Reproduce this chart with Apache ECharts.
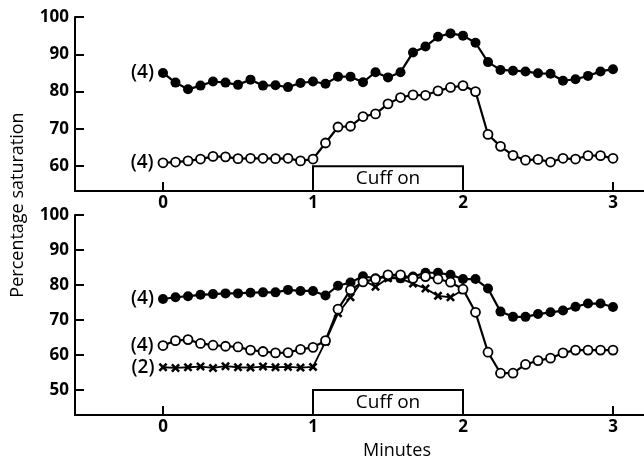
<!DOCTYPE html>
<html><head><meta charset="utf-8">
<script src="https://cdn.jsdelivr.net/npm/echarts@6/dist/echarts.min.js"></script>
<style>html,body{margin:0;padding:0;background:#fff}#c{width:644px;height:458px}</style>
</head><body><div id="c"></div>
<script>
// sample times in seconds (one reading every 5 s)
const seconds = [0,5,10,15,20,25,30,35,40,45,50,55,60,65,70,75,80,85,90,95,100,105,110,115,120,125,130,135,140,145,150,155,160,165,170,175,180];
const tickSeconds = [0,60,120,180];
const topTicks = [60,70,80,90,100];
const bottomTicks = [50,60,70,80,90,100];
const cuffLabel = 'Cuff on';
const cuffStartEnd = [60,120];

// upper panel
const topFilledName = '(4)';
const topFilled = [85.0,82.4,80.6,81.6,82.7,82.4,81.8,83.2,81.6,81.7,81.2,82.3,82.7,82.1,84.0,84.0,82.5,85.2,83.8,85.2,90.5,92.1,94.7,95.6,95.0,93.1,87.9,85.8,85.6,85.4,84.9,84.8,82.9,83.3,84.2,85.4,86.0];
const topOpenName = '(4)';
const topOpen = [60.9,61.1,61.4,61.9,62.6,62.5,62.0,62.1,62.1,62.0,62.1,61.4,61.9,66.2,70.5,70.7,73.3,74.0,76.7,78.4,79.1,79.0,80.2,81.1,81.6,80.0,68.5,65.3,62.9,61.6,61.8,61.1,62.1,61.9,62.8,62.8,62.1];

// lower panel
const botFilledName = '(4)';
const botFilled = [76.0,76.5,76.8,77.2,77.4,77.6,77.6,77.8,77.9,77.9,78.6,78.3,78.3,77.0,79.8,80.7,82.5,81.9,82.4,81.9,82.4,83.5,83.5,82.9,81.7,81.7,79.0,72.4,70.9,70.9,71.7,72.2,72.7,73.8,74.7,74.7,73.7];
const botOpenName = '(4)';
const botOpen = [62.7,64.1,64.4,63.3,62.8,62.5,62.3,61.4,61.0,60.6,60.7,61.6,62.2,64.1,73.1,78.6,80.9,81.7,82.9,82.9,81.9,82.4,81.7,80.8,78.8,72.2,60.8,54.8,54.8,57.3,58.4,59.1,60.6,61.4,61.4,61.4,61.4];
const botCrossName = '(2)';
const botCross = [56.5,56.3,56.5,56.7,56.3,56.8,56.5,56.4,56.7,56.5,56.6,56.4,56.6,63.8,71.9,76.5,81.4,79.5,81.9,81.9,80.4,79.0,76.9,76.5,78.6];

const yTitle = 'Percentage saturation';
const xTitle = 'Minutes';

const TOP_MIN = 53.33, TOP_MAX = 100;
const BOT_MIN = 42.86, BOT_MAX = 100;
const X_MIN = -35.2, X_MAX = 192.4;

const FONT = 'Open Sans';
const pair = (arr) => arr.map((v, i) => [seconds[i], v]);

function xAxisCfg(idx, extra) {
  return Object.assign({
    type: 'value', gridIndex: idx, min: X_MIN, max: X_MAX,
    axisLine: { show: true, onZero: false, lineStyle: { color: '#000', width: 2 } },
    axisTick: { show: true, inside: true, length: 9, customValues: tickSeconds, lineStyle: { color: '#000', width: 2 } },
    axisLabel: { customValues: tickSeconds, formatter: v => String(v / 60), color: '#000', fontSize: 17, fontWeight: 'bold', fontFamily: FONT, margin: 4 },
    splitLine: { show: false }
  }, extra || {});
}
function yAxisCfg(idx, mn, mx, ticks) {
  return {
    type: 'value', gridIndex: idx, min: mn, max: mx,
    axisLine: { show: true, onZero: false, lineStyle: { color: '#000', width: 2 } },
    axisTick: { show: true, inside: true, length: 9, customValues: ticks, lineStyle: { color: '#000', width: 2 } },
    axisLabel: { customValues: ticks, color: '#000', fontSize: 17, fontWeight: 'bold', fontFamily: FONT, margin: 6 },
    splitLine: { show: false }
  };
}
function firstLabel(name) {
  return { show: true, position: 'left', distance: 4, color: '#000', fontSize: 19, fontWeight: 600, fontFamily: FONT,
    formatter: p => (p.dataIndex === 0 ? name : '') };
}
function cuffArea(mn, top) {
  return {
    silent: true,
    itemStyle: { color: '#fff', borderColor: '#000', borderWidth: 2 },
    label: { show: true, position: 'inside', color: '#000', fontSize: 19, fontFamily: FONT, fontWeight: 500 },
    data: [[{ name: cuffLabel, xAxis: cuffStartEnd[0], yAxis: mn }, { xAxis: cuffStartEnd[1], yAxis: top }]]
  };
}
const crossPath = 'path://M0,2L2,0L5,3L8,0L10,2L7,5L10,8L8,10L5,7L2,10L0,8L3,5Z';

const filledStyle = { symbol: 'circle', symbolSize: 10, itemStyle: { color: '#000' }, lineStyle: { color: '#000', width: 2.2 } };
const openStyle = { symbol: 'circle', symbolSize: 9, itemStyle: { color: '#fff', borderColor: '#000', borderWidth: 1.8 }, lineStyle: { color: '#000', width: 2.2 } };

const option = {
  backgroundColor: '#fff',
  animation: false,
  grid: [
    { left: 75, right: 0, top: 17, height: 174, outerBoundsMode: 'none', containLabel: false },
    { left: 75, right: 0, top: 215, height: 200, outerBoundsMode: 'none', containLabel: false }
  ],
  xAxis: [
    xAxisCfg(0),
    xAxisCfg(1, { name: xTitle, nameLocation: 'middle', nameGap: 27,
      nameTextStyle: { color: '#000', fontSize: 18, fontFamily: FONT, padding: [0, 0, 0, 75] } })
  ],
  yAxis: [
    yAxisCfg(0, TOP_MIN, TOP_MAX, topTicks),
    yAxisCfg(1, BOT_MIN, BOT_MAX, bottomTicks)
  ],
  graphic: [{
    type: 'text', x: 18, y: 205, rotation: Math.PI / 2,
    style: { text: yTitle, fontSize: 18, fontFamily: FONT, fill: '#000', textAlign: 'center', textVerticalAlign: 'middle' }
  }],
  series: [
    Object.assign({ type: 'line', name: topOpenName, xAxisIndex: 0, yAxisIndex: 0, data: pair(topOpen), label: firstLabel(topOpenName), z: 3 }, openStyle),
    Object.assign({ type: 'line', name: topFilledName, xAxisIndex: 0, yAxisIndex: 0, data: pair(topFilled), label: firstLabel(topFilledName), markArea: cuffArea(TOP_MIN, 60), z: 2 }, filledStyle),
    Object.assign({ type: 'line', name: botCrossName, xAxisIndex: 1, yAxisIndex: 1, data: pair(botCross), label: firstLabel(botCrossName), symbol: crossPath, symbolSize: 9,
      itemStyle: { color: '#000' }, lineStyle: { color: '#000', width: 1.8 }, z: 3 }),
    Object.assign({ type: 'line', name: botOpenName, xAxisIndex: 1, yAxisIndex: 1, data: pair(botOpen), label: firstLabel(botOpenName), z: 4 }, openStyle),
    Object.assign({ type: 'line', name: botFilledName, xAxisIndex: 1, yAxisIndex: 1, data: pair(botFilled), label: firstLabel(botFilledName), markArea: cuffArea(BOT_MIN, 50), z: 2 }, filledStyle)
  ]
};
const chart = echarts.init(document.getElementById('c'), null, { renderer: 'canvas' });
chart.setOption(option);
</script>
</body></html>
